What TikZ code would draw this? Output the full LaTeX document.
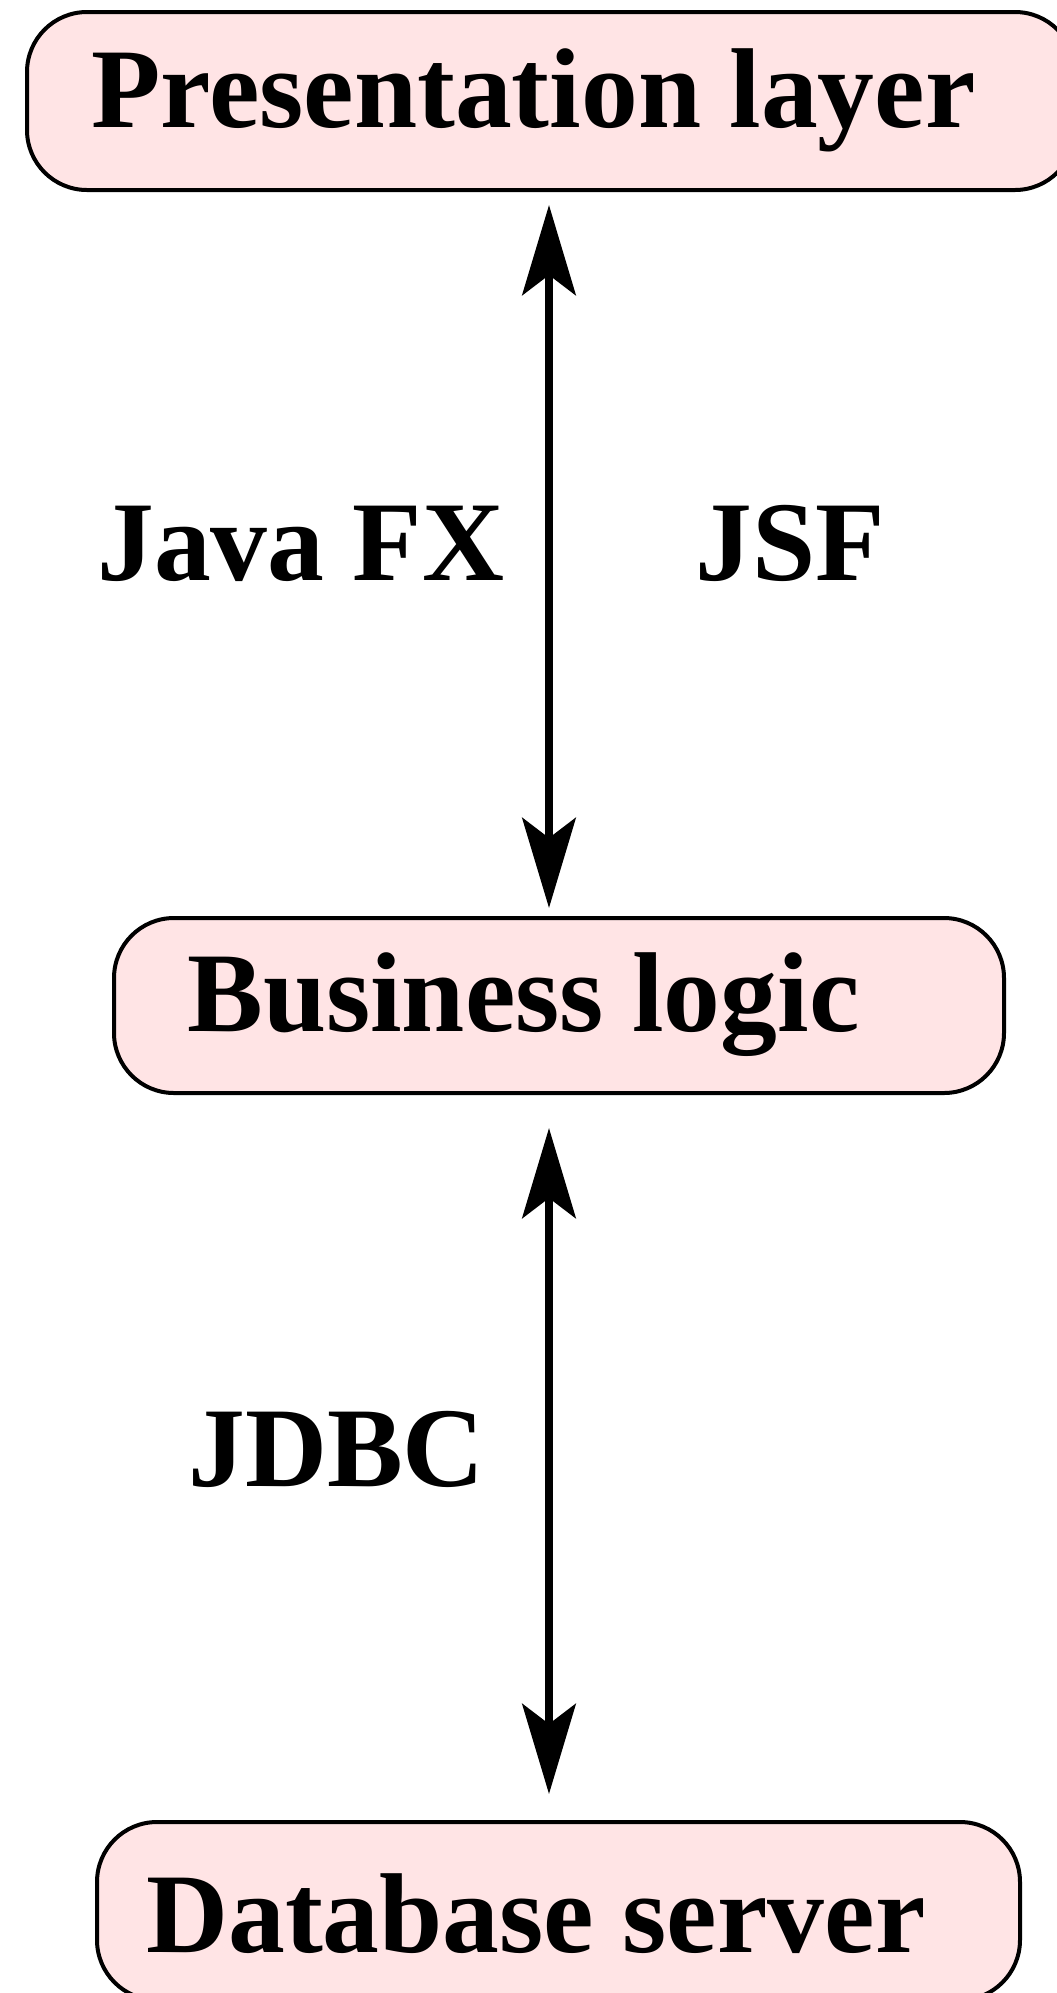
\documentclass[tikz,border=0pt]{standalone}
\usepackage{fontspec}
\setmainfont{Liberation Serif}
\usetikzlibrary{arrows.meta}
\definecolor{boxpink}{RGB}{255,228,229}

\begin{document}
\begin{tikzpicture}[x=0.75pt,y=0.75pt,yscale=-1,xscale=1,
  layerbox/.style={draw, line width=3pt, fill=boxpink, rounded corners=45pt,
    inner sep=0pt, outer sep=0pt, anchor=north west, minimum height=133.5pt},
  bigtext/.style={anchor=base west, inner sep=0pt,
    font=\fontsize{85.2}{90}\selectfont\bfseries},
  link/.style={line width=6.5pt, {Stealth[length=67.5pt,width=40pt,inset=15pt]}-{Stealth[length=67.5pt,width=40pt,inset=15pt]}}]
\useasboundingbox (0,0) rectangle (1057,1993);

%Rounded boxes
\node (pres) [layerbox, minimum width=786pt] at (27,12) {};
\node (biz)  [layerbox, minimum width=667.5pt, minimum height=131.25pt] at (114,918) {};
\node (db)   [layerbox, minimum width=692.25pt] at (97,1822) {};

%Arrows run down this line
\coordinate (axis) at (549,0);

%Straight Lines
\draw [link, shorten <=11.25pt, shorten >=7.5pt] (pres.south -| axis) -- (biz.north -| axis);
%Straight Lines
\draw [link, shorten <=26.25pt, shorten >=21pt] (biz.south -| axis) -- (db.north -| axis);

% Text Node
\node (presText) [bigtext] at (91,127) {Presentation layer};
% Text Node
\node (bizText) [bigtext] at (187,1031) {Business logic};
% Text Node
\node (dbText) [bigtext] at (146,1952) {Database server};
% Text Node
\node (javafx) [bigtext] at (97,580) {Java FX};
% Text Node
\node (jsf) [bigtext] at (695,580) {JSF};
% Text Node
\node (jdbc) [bigtext] at (188,1486) {JDBC};

\end{tikzpicture}
\end{document}
